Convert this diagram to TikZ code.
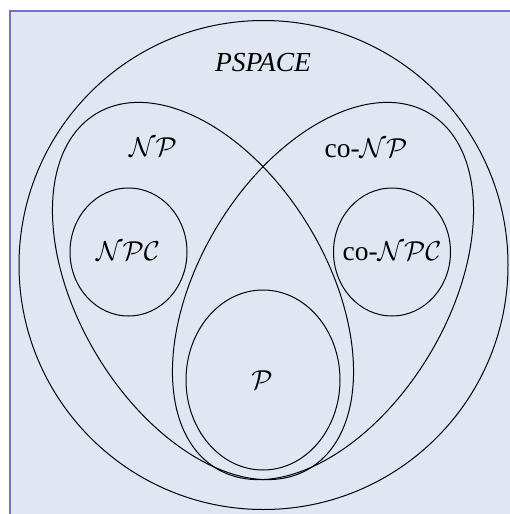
\documentclass[tikz,border=0pt]{standalone}
\usepackage{amsmath,amssymb}
\usepackage{fontspec}
\setmainfont{Liberation Serif}
\usetikzlibrary{backgrounds}
\pgfdeclarelayer{edgelayer}
\pgfdeclarelayer{nodelayer}
\pgfsetlayers{background,edgelayer,nodelayer,main}
\definecolor{framebg}{RGB}{225,231,242}
\definecolor{frameline}{RGB}{115,115,195}
\tikzstyle{none}=[inner sep=0mm]
\tikzstyle{class}=[inner sep=0mm,font=\fontsize{11}{13}\selectfont]
\tikzstyle{set}=[draw=black,line width=0.4pt]
\tikzstyle{frame}=[draw=frameline,line width=0.8pt]

\begin{document}
\begin{tikzpicture}[x=0.4pt,y=-0.4pt]
	\useasboundingbox (0, 0) rectangle (510, 514);
	\begin{pgfonlayer}{background}
		\fill [framebg] (10, 11) rectangle (510, 514);
		\draw [style=frame] (10, 514) -- (10, 11) -- (510, 11);
	\end{pgfonlayer}
	\begin{pgfonlayer}{nodelayer}
		\node [style=class] (pspace) at (263, 63) {\textit{PSPACE}};
		\node [style=class] (np) at (153, 147) {$\mathcal{NP}$};
		\node [style=class] (conp) at (366, 148) {co-$\mathcal{NP}$};
		\node [style=class] (npc) at (128, 251) {$\mathcal{NPC}$};
		\node [style=class] (conpc) at (392, 251) {co-$\mathcal{NPC}$};
		\node [style=class] (p) at (262, 380) {$\mathcal{P}$};
	\end{pgfonlayer}
	\begin{pgfonlayer}{edgelayer}
		\draw [style=set] (263.5, 265) circle [radius=244.5];
		\draw [style=set, rotate around={-59:(203, 291)}] (203, 291) ellipse [x radius=207, y radius=124];
		\draw [style=set, rotate around={59:(323, 291)}] (323, 291) ellipse [x radius=207, y radius=124];
		\draw [style=set] (128.5, 252) ellipse [x radius=58.5, y radius=64];
		\draw [style=set] (392, 252) ellipse [x radius=58.5, y radius=64];
		\draw [style=set] (263, 380) ellipse [x radius=77, y radius=90];
	\end{pgfonlayer}
\end{tikzpicture}
\end{document}
